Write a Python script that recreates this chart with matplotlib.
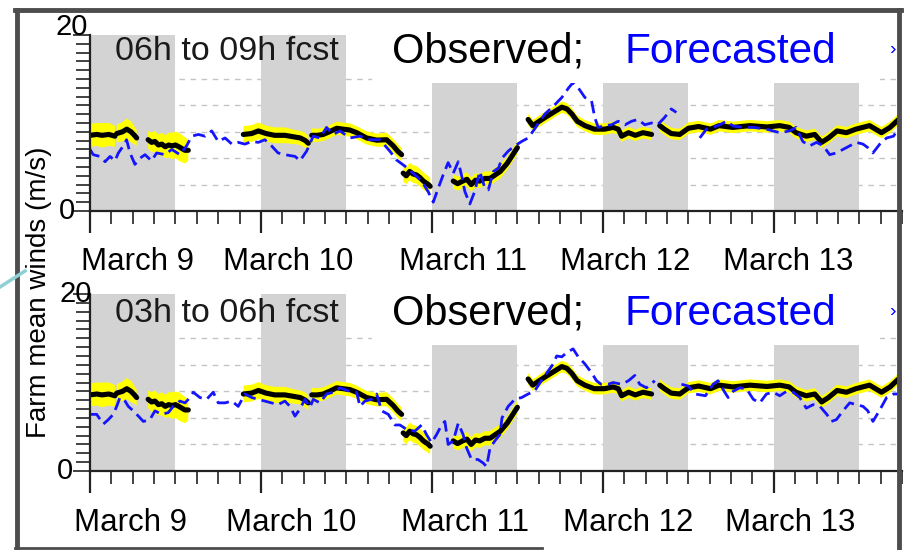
import numpy as np
import matplotlib
matplotlib.use('Agg')
import matplotlib.pyplot as plt
import matplotlib.transforms as mtransforms
from matplotlib.patches import Rectangle
from matplotlib.lines import Line2D

plt.rcParams['font.family'] = ['Liberation Sans', 'DejaVu Sans']

nan = np.nan

# observed farm mean wind (days since March 9 00h), NaN = gap in the record
obs_day = [0.00, 0.04, 0.07, 0.11, 0.146, nan,
           0.156, 0.19, 0.215, 0.24, 0.26, 0.273, nan,
           0.34, 0.36, 0.38, 0.40, 0.42, 0.44, 0.46, 0.48, 0.50, 0.52, 0.555, 0.575, nan,
           0.897, 0.945, 0.985, 1.03, 1.08, 1.14, 1.20, 1.23, 1.26, 1.277, nan,
           1.297, 1.33, 1.364, 1.40, 1.443, 1.48, 1.52, 1.56, 1.618, 1.677, 1.735, 1.774, 1.80, 1.823, nan,
           1.832, 1.85, 1.87, 1.89, 1.91, 1.93, 1.95, 1.98, 1.99, nan,
           2.125, 2.15, 2.18, 2.205, 2.23, 2.255, 2.28, 2.31, 2.34, 2.37, 2.40, 2.44, 2.47, 2.50, nan,
           2.563, 2.59, 2.62, 2.66, 2.71, 2.76, 2.79, 2.82, 2.85, 2.895, 2.95, 3.01, 3.06, 3.09, 3.11,
           3.15, 3.19, 3.235, 3.285, nan,
           3.333, 3.36, 3.40, 3.45, 3.50, 3.56, 3.63, 3.68, 3.76, 3.86, 3.96, 4.035, 4.09, 4.13, 4.19,
           4.24, 4.28, 4.32, 4.37, 4.425, 4.48, 4.56, 4.63, 4.68, 4.73]
obs_wind = [8.6, 8.7, 8.6, 8.7, 8.5, nan,
            8.8, 9.0, 9.3, 9.0, 8.6, 8.3, nan,
            8.1, 7.8, 7.9, 7.5, 7.6, 7.3, 7.5, 7.4, 7.5, 7.3, 6.9, 6.9, nan,
            8.7, 8.8, 9.1, 8.8, 8.6, 8.6, 8.4, 8.3, 8.0, 7.7, nan,
            8.6, 8.6, 8.7, 9.0, 9.4, 9.3, 9.2, 8.9, 8.3, 8.05, 8.1, 7.4, 6.8, 6.4, nan,
            4.3, 4.0, 4.5, 4.2, 4.1, 3.8, 3.4, 3.0, 2.8, nan,
            3.4, 3.1, 3.4, 3.6, 3.0, 3.5, 3.4, 3.7, 3.7, 4.1, 4.5, 5.4, 6.3, 7.2, nan,
            10.4, 9.7, 10.1, 10.6, 11.2, 11.8, 11.6, 11.0, 10.2, 9.7, 9.3, 9.3, 9.5, 9.3, 8.5,
            8.9, 8.6, 8.9, 8.7, nan,
            9.7, 9.3, 8.8, 8.7, 9.4, 9.6, 9.3, 9.7, 9.5, 9.7, 9.55, 9.7, 9.5, 8.9, 8.5,
            8.7, 7.8, 8.3, 9.1, 8.9, 9.3, 9.7, 8.9, 9.5, 10.4]
obs_spread = [1.3, 1.3, 1.4, 1.3, 1.2, nan,
              1.0, 1.1, 1.2, 1.2, 1.0, 0.9, nan,
              1.0, 1.1, 1.2, 1.2, 1.3, 1.3, 1.4, 1.5, 1.5, 1.6, 1.5, 1.2, nan,
              0.95, 0.95, 0.95, 0.9, 0.9, 0.9, 0.8, 0.8, 0.85, 0.85, nan,
              0.8, 0.75, 0.75, 0.75, 0.75, 0.75, 0.75, 0.75, 0.75, 0.75, 0.8, 0.8, 0.8, 0.75, nan,
              0.95, 0.95, 1.0, 1.0, 1.0, 1.0, 1.0, 0.95, 0.9, nan,
              0.8, 0.8, 0.8, 0.8, 0.8, 0.8, 0.8, 0.8, 0.8, 0.8, 0.8, 0.75, 0.75, 0.75, nan,
              0.65, 0.65, 0.65, 0.65, 0.65, 0.65, 0.65, 0.65, 0.65, 0.65, 0.65, 0.65, 0.65, 0.65, 0.65,
              0.65, 0.65, 0.65, 0.65, nan,
              0.65, 0.65, 0.65, 0.65, 0.65, 0.65, 0.65, 0.65, 0.65, 0.65, 0.65, 0.65, 0.65, 0.65, 0.65,
              0.65, 0.65, 0.65, 0.65, 0.65, 0.65, 0.65, 0.65, 0.65, 0.65]

# forecast, 06h to 09h lead
fc9_day = [0.0, 0.019, 0.058, 0.088, 0.117, 0.146, 0.166, 0.195, 0.214, 0.234, 0.263, 0.292, 0.322, 0.36,
           0.39, 0.439, 0.478, 0.526, 0.565, 0.595, 0.634, 0.673, 0.712, 0.75, 0.79, 0.83, 0.867, 0.906,
           0.946, 0.985, 1.023, 1.062, 1.1, 1.14, 1.2, 1.228, 1.267, 1.306, 1.345, 1.384, 1.423, 1.462,
           1.52, 1.579, 1.637, 1.696, 1.754, 1.793, 1.842, 1.89, 1.94, 1.978, 2.008, 2.037, 2.066, 2.095,
           2.125, 2.154, 2.173, 2.193, 2.222, 2.25, 2.28, 2.31, 2.33, 2.36, 2.39, 2.41, 2.446, 2.485,
           2.525, 2.563, 2.60, 2.66, 2.71, 2.76, 2.80, 2.826, 2.856, 2.895, 2.934, 2.953, 2.973, 3.01,
           3.05, 3.09, 3.13, 3.168, 3.206, 3.245, 3.285, 3.32, 3.36, 3.40, 3.43, nan,
           3.567, 3.606, 3.645, 3.684, 3.723, 3.762, 3.82, 3.88, 3.957, 4.035, 4.094, 4.13, 4.17, 4.21,
           4.25, 4.29, 4.327, 4.366, 4.405, 4.444, 4.483, 4.522, 4.55, 4.58, 4.62, 4.66, 4.70, 4.727]
fc9_wind = [7.0, 6.4, 6.2, 5.6, 6.2, 5.7, 6.6, 7.4, 8.1, 6.6, 5.3, 6.0, 6.4, 5.7,
            6.6, 6.4, 7.0, 6.4, 7.4, 8.5, 8.7, 8.5, 9.1, 7.9, 8.3, 7.6, 7.8, 7.6,
            7.9, 7.8, 8.1, 7.4, 6.6, 6.4, 6.2, 5.7, 6.8, 8.5, 8.3, 9.5, 8.7, 9.1,
            8.3, 8.5, 8.1, 8.1, 6.8, 5.8, 5.1, 4.3, 3.4, 2.2, 1.0, 2.6, 4.1, 5.5,
            4.3, 5.6, 4.1, 2.2, 0.8, 2.2, 4.5, 2.6, 2.4, 4.5, 4.9, 6.0, 6.8, 7.4,
            7.9, 8.3, 9.3, 11.0, 11.9, 12.9, 14.0, 14.6, 14.0, 12.9, 12.5, 10.6, 9.5, 9.7,
            9.8, 10.2, 9.8, 10.2, 10.4, 9.8, 10.0, 9.8, 10.6, 11.6, 11.2, nan,
            8.3, 9.3, 9.5, 9.8, 10.2, 9.65, 9.5, 9.5, 9.3, 8.9, 9.1, 9.5, 7.9, 7.4,
            7.8, 7.4, 6.4, 6.6, 7.0, 7.4, 7.8, 7.6, 7.2, 6.6, 7.6, 8.3, 8.5, 9.3]

# forecast, 03h to 06h lead
fc6_day = [0.0, 0.039, 0.078, 0.107, 0.136, 0.156, 0.175, 0.205, 0.224, 0.253, 0.283, 0.312, 0.35, 0.38,
           0.419, 0.458, 0.487, 0.526, 0.556, 0.585, 0.604, 0.643, 0.682, 0.721, 0.75, 0.79, 0.83, 0.867,
           0.906, 0.946, 0.985, 1.023, 1.062, 1.1, 1.14, 1.17, 1.199, 1.228, 1.257, 1.287, 1.306, 1.345,
           1.384, 1.423, 1.462, 1.52, 1.56, 1.579, 1.608, 1.647, 1.677, 1.706, 1.745, 1.784, 1.813, 1.852,
           1.90, 1.94, 1.969, 1.998, 2.027, 2.057, 2.076, 2.095, 2.125, 2.154, 2.183, 2.203, 2.232, 2.27,
           2.30, 2.32, 2.34, 2.368, 2.398, 2.41, 2.446, 2.485, 2.525, 2.563, 2.60, 2.64, 2.68, 2.71,
           2.73, 2.76, 2.79, 2.826, 2.856, 2.895, 2.934, 2.963, 2.99, 3.03, 3.06, 3.11, 3.15, 3.187,
           3.216, 3.255, 3.304, nan,
           3.46, 3.50, 3.54, 3.60, 3.645, 3.674, 3.713, 3.733, 3.762, 3.80, 3.84, 3.88, 3.918, 3.957,
           3.996, 4.035, 4.074, 4.113, 4.152, 4.19, 4.23, 4.27, 4.31, 4.337, 4.366, 4.405, 4.444, 4.483,
           4.522, 4.55, 4.58, 4.62, 4.66, 4.70, 4.73]
fc6_wind = [6.4, 6.4, 5.3, 5.8, 6.4, 7.3, 8.3, 7.9, 7.3, 6.8, 6.2, 5.6, 5.8, 6.8,
            6.4, 6.6, 7.3, 7.9, 7.7, 8.3, 8.9, 8.3, 8.1, 8.9, 7.7, 7.7, 7.9, 7.3,
            8.7, 8.3, 8.1, 7.9, 7.7, 7.5, 7.9, 7.3, 6.2, 7.0, 8.1, 7.2, 8.1, 7.7,
            8.7, 8.9, 9.4, 9.0, 8.9, 7.3, 7.9, 8.1, 8.7, 6.8, 6.4, 5.2, 5.2, 4.7,
            4.5, 5.2, 4.1, 3.2, 4.1, 5.2, 5.6, 3.0, 3.4, 5.4, 4.1, 2.6, 1.3, 1.3,
            0.9, 0.5, 2.6, 3.4, 4.1, 6.0, 7.3, 8.1, 8.3, 8.7, 9.0, 10.2, 11.3, 12.1,
            13.0, 12.9, 13.4, 13.8, 12.9, 12.1, 11.1, 10.2, 9.8, 9.8, 10.0, 9.8, 10.2, 10.8,
            9.8, 9.4, 10.2, nan,
            9.8, 9.6, 8.7, 8.5, 9.8, 10.2, 8.9, 8.3, 9.0, 9.4, 9.3, 8.1, 7.7, 8.7,
            8.9, 8.5, 9.0, 8.9, 8.3, 7.1, 7.5, 7.3, 6.4, 5.6, 5.8, 6.8, 7.7, 7.5,
            7.3, 6.8, 5.6, 6.9, 8.3, 8.7, 8.7]

night_start = [0, 1, 2, 3, 4]
day_labels = ['March 9', 'March 10', 'March 11', 'March 12', 'March 13']
ytick_vals = [0, 20]
grid_levels = [3, 6, 9, 12, 15]

W, H = 907, 550
fig = plt.figure(figsize=(W / 100, H / 100), dpi=100)


def fx(px):
    return px / W


def fy(py):
    return 1 - py / H


panels = [
    dict(top=35, bottom=211, day=fc9_day, wind=fc9_wind, lead='06h to 09h fcst',
         lab_x=[0.275, 1.158, 2.181, 3.129, 4.082], lab_y=270, txt_y=62, cover=14.5,
         ylab_pos=[(67, 211), (72, 27)]),
    dict(top=294, bottom=471, day=fc6_day, wind=fc6_wind, lead='03h to 06h fcst',
         lab_x=[0.234, 1.175, 2.193, 3.146, 4.094], lab_y=531, txt_y=324, cover=14.2,
         ylab_pos=[(65, 471), (76, 294)]),
]

o_day = np.array(obs_day)
o_w = np.array(obs_wind)
o_s = np.array(obs_spread)

for p in panels:
    ax = fig.add_axes([fx(90), fy(p['bottom']), fx(902) - fx(90), fy(p['top']) - fy(p['bottom'])])
    ax.set_xlim(0, 4.75)
    ax.set_ylim(0, 20)

    for g in grid_levels:
        ax.axhline(g, color='#c4c4c4', lw=1.0, ls=(0, (4, 4)), zorder=0)
    for d in night_start:
        ax.axvspan(d, d + 0.5, color='#d3d3d3', lw=0, zorder=1)

    ax.fill_between(o_day, o_w - o_s, o_w + o_s, color='#ffff00', lw=0, zorder=2)
    ax.plot(o_day, o_w, color='black', lw=3.7, solid_capstyle='round', solid_joinstyle='round', zorder=3)
    ax.plot(p['day'], p['wind'], color='#1414ff', lw=2.0, ls=(0, (4.5, 2.2)), zorder=4)

    # white text box pasted over the top of the plot
    ax.add_patch(Rectangle((1.65, p['cover']), 4.62 - 1.65, 8, facecolor='white', lw=0,
                           zorder=5, clip_on=False))

    for s in ['top', 'right']:
        ax.spines[s].set_visible(False)
    for s in ['left', 'bottom']:
        ax.spines[s].set_linewidth(1.6)
        ax.spines[s].set_color('#222222')
        ax.spines[s].set_zorder(6)

    ax.set_yticks(ytick_vals)
    ax.set_yticks(range(21), minor=True)
    ax.tick_params(axis='y', which='major', length=12, width=1.2, labelleft=False, color='#222222')
    ax.tick_params(axis='y', which='minor', length=10, width=1.2, color='#222222')
    ax.set_xticks(range(5))
    ax.set_xticks(np.arange(0, 4.76, 0.125), minor=True)
    ax.tick_params(axis='x', which='major', length=16, width=1.6, labelbottom=False, color='#222222')
    ax.tick_params(axis='x', which='minor', length=9, width=1.2, color='#222222')

    for v, (px, py) in zip(ytick_vals, p['ylab_pos']):
        fig.text(fx(px), fy(py), str(v), fontsize=21, ha='center', va='center', zorder=10)

    trans = mtransforms.blended_transform_factory(ax.transData, fig.transFigure)
    for x, lab in zip(p['lab_x'], day_labels):
        ax.text(x, fy(p['lab_y']), lab, transform=trans, ha='center', va='baseline', fontsize=22.5)

    fig.text(fx(115), fy(p['txt_y'] - 2), p['lead'], fontsize=24.5, color='#1a1a1a',
             ha='left', va='baseline', zorder=10)
    fig.text(fx(392), fy(p['txt_y'] + 1), 'Observed;', fontsize=30, color='black',
             ha='left', va='baseline', zorder=10)
    fig.text(fx(625), fy(p['txt_y'] + 1), 'Forecasted', fontsize=30.5, color='#0000ff',
             ha='left', va='baseline', zorder=10)
    fig.text(fx(889), fy(p['txt_y'] - 8), '›', fontsize=14, color='#0000ff',
             ha='left', va='baseline', zorder=10)

fig.text(fx(39), fy(292), 'Farm mean winds (m/s)', rotation=90, ha='center', va='center', fontsize=20)

# screenshot frame
frame = '#4d4d4d'
fig.add_artist(Line2D([fx(15), fx(901)], [fy(10), fy(10)], color=frame, lw=3.5))
fig.add_artist(Line2D([fx(17), fx(17)], [fy(10), fy(550)], color=frame, lw=3.5))
fig.add_artist(Line2D([fx(899), fx(899)], [fy(10), fy(548)], color=frame, lw=3.5))
fig.add_artist(Line2D([fx(15), fx(542)], [fy(548), fy(548)], color=frame, lw=2))
fig.add_artist(Line2D([fx(0), fx(25)], [fy(287), fy(271)], color='#8fcfd6', lw=2.5))

fig.savefig('out.png', dpi=100)
